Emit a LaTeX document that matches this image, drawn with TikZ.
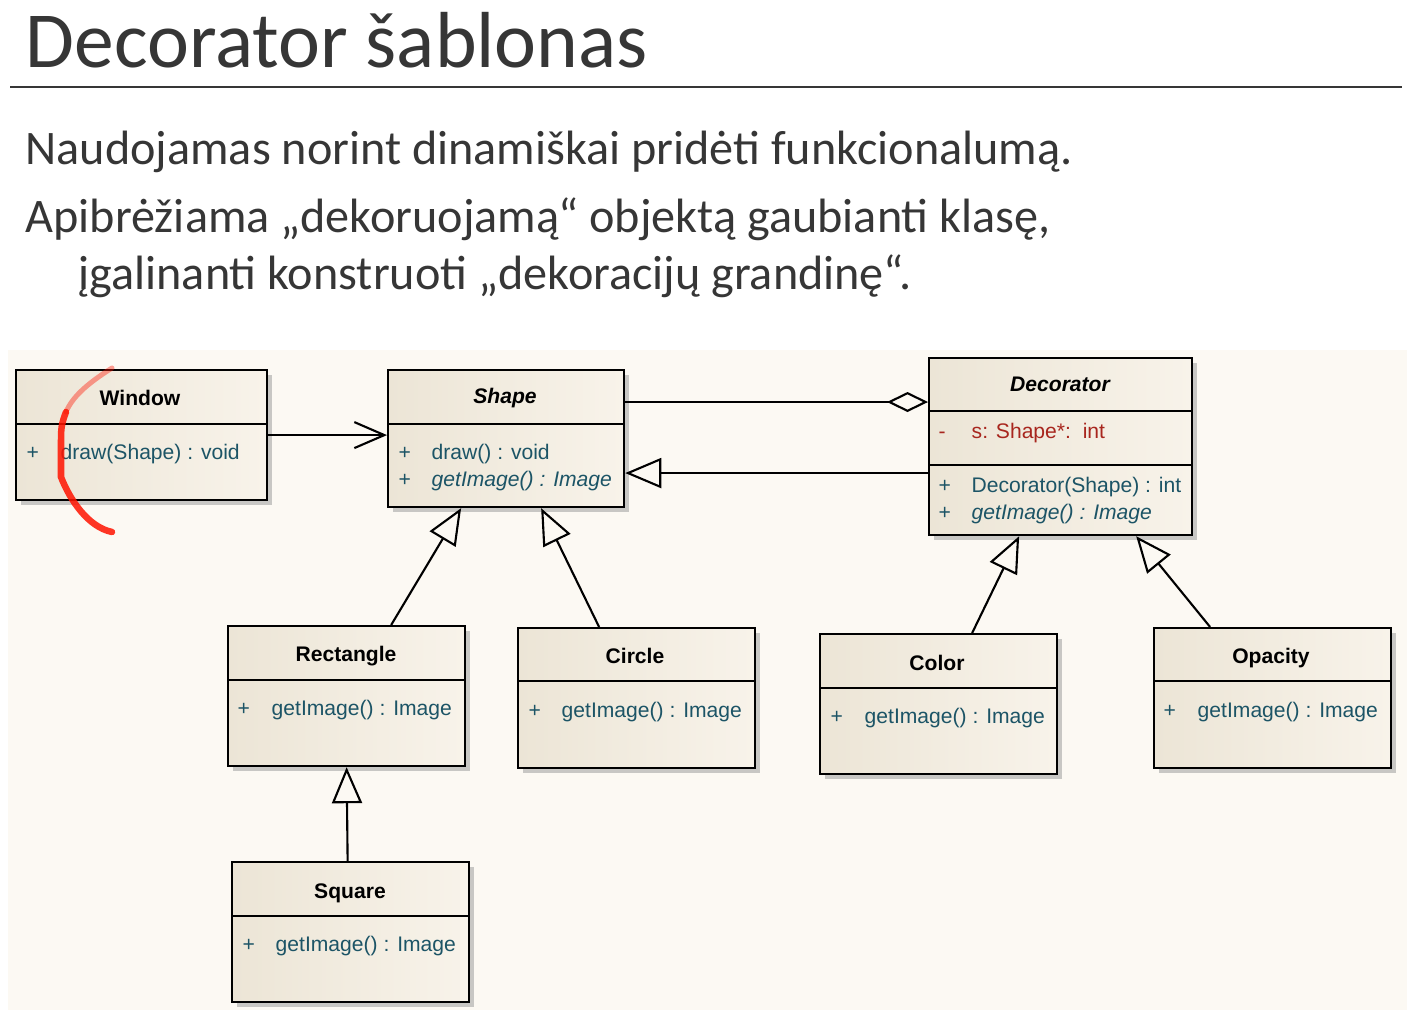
\documentclass[tikz,border=0pt]{standalone}
\usepackage{fontspec}
\setmainfont{Carlito}
\newfontfamily\umlfont{Liberation Sans}
\usetikzlibrary{arrows.meta,shadows}

\definecolor{slidetext}{HTML}{363636}
\definecolor{umlfill}{HTML}{ECE5D6}
\definecolor{umlfillb}{HTML}{F8F3EA}
\definecolor{umlteal}{HTML}{1C5466}
\definecolor{umlred}{HTML}{A8261E}
\definecolor{canvas}{HTML}{FCF9F3}

\tikzset{
  classbox/.style={draw=black, line width=0.6pt, left color=umlfill, right color=umlfillb,
    anchor=north west, inner sep=0pt,
    drop shadow={shadow xshift=0.05cm, shadow yshift=-0.05cm, fill=black!35, opacity=0.6}},
  classname/.style={font=\umlfont\fontsize{6pt}{7pt}\selectfont\bfseries, anchor=base, inner sep=0pt},
  member/.style={font=\umlfont\fontsize{6pt}{7pt}\selectfont, text=umlteal, anchor=base west, inner sep=0pt},
  attrib/.style={member, text=umlred},
  slideline/.style={font=\fontsize{13.7pt}{17pt}\selectfont, text=slidetext, anchor=base west, inner sep=0pt},
  assoc/.style={line width=0.6pt, -{Straight Barb[length=0.3cm, width=0.26cm]}},
  aggregate/.style={line width=0.6pt, -{Diamond[open, length=0.41cm, width=0.2cm]}},
  generalize/.style={line width=0.6pt, -{Triangle[open, length=0.36cm, width=0.3cm]}},
}

\begin{document}
\begin{tikzpicture}[x=0.01cm, y=-0.01cm]
  \useasboundingbox (0,0) rectangle (1407,1010);
  \fill[white] (0,0) rectangle (1407,1010);
  \fill[canvas] (8,350) rectangle (1407,1010);

  % slide text
  \node[anchor=base west, inner sep=0pt, text=slidetext, font=\fontsize{22.6pt}{26pt}\selectfont] (title) at (25,68) {Decorator šablonas};
  \draw[slidetext, line width=0.7pt] (10,87) -- (1402,87);
  \node[slideline] (lead) at (25,165) {Naudojamas norint dinamiškai pridėti funkcionalumą.};
  \node[slideline] (defn) at (25,233) {Apibrėžiama „dekoruojamą“ objektą gaubianti klasę,};
  \node[slideline] (defncont) at (78,290) {įgalinanti konstruoti „dekoracijų grandinę“.};

  % classes
  \node[classbox, minimum width=2.51cm, minimum height=1.30cm] (window) at (15,369) {};
  \draw (15,424) -- (266,424);
  \node[classname] (windowname) at (140,406) {Window};
  \node[member] (windowplus) at (26,459) {+};
  \node[member] (windowdraw) at (60,459) {draw(Shape) : void};

  \node[classbox, minimum width=2.36cm, minimum height=1.37cm] (shape) at (387,369) {};
  \draw (387,424) -- (623,424);
  \node[classname, font=\umlfont\fontsize{6pt}{7pt}\selectfont\bfseries\itshape] (shapename) at (505,404) {Shape};
  \node[member] (shapeplusa) at (398,459) {+};
  \node[member] (shapedraw) at (431,459) {draw() : void};
  \node[member] (shapeplusb) at (398,486) {+};
  \node[member, font=\umlfont\fontsize{6pt}{7pt}\selectfont\itshape] (shapeget) at (431,486) {getImage() : Image};

  \node[classbox, minimum width=2.63cm, minimum height=1.77cm] (deco) at (928,357) {};
  \draw (928,411) -- (1191,411);
  \draw (928,465) -- (1191,465);
  \node[classname, font=\umlfont\fontsize{6pt}{7pt}\selectfont\bfseries\itshape] (deconame) at (1060,392) {Decorator};
  \node[attrib] (decominus) at (938,439) {-};
  \node[attrib] (decoattr) at (971,439) {s: Shape*:\ \ int};
  \node[member] (decoplusa) at (938,492) {+};
  \node[member] (decoctor) at (971,492) {Decorator(Shape) : int};
  \node[member] (decoplusb) at (938,519) {+};
  \node[member, font=\umlfont\fontsize{6pt}{7pt}\selectfont\itshape] (decoget) at (971,519) {getImage() : Image};

  \node[classbox, minimum width=2.37cm, minimum height=1.40cm] (rect) at (227,625) {};
  \draw (227,680) -- (464,680);
  \node[classname] (rectname) at (346,661) {Rectangle};
  \node[member] (rectplus) at (237,715) {+};
  \node[member] (rectget) at (271,715) {getImage() : Image};

  \node[classbox, minimum width=2.37cm, minimum height=1.40cm] (circ) at (517,627) {};
  \draw (517,681) -- (754,681);
  \node[classname] (circname) at (635,663) {Circle};
  \node[member] (circplus) at (528,717) {+};
  \node[member] (circget) at (561,717) {getImage() : Image};

  \node[classbox, minimum width=2.37cm, minimum height=1.40cm] (colour) at (819,633) {};
  \draw (819,688) -- (1056,688);
  \node[classname] (colourname) at (937,670) {Color};
  \node[member] (colourplus) at (830,723) {+};
  \node[member] (colourget) at (864,723) {getImage() : Image};

  \node[classbox, minimum width=2.37cm, minimum height=1.40cm] (opac) at (1153,627) {};
  \draw (1153,681) -- (1390,681);
  \node[classname] (opacname) at (1271,663) {Opacity};
  \node[member] (opacplus) at (1163,717) {+};
  \node[member] (opacget) at (1197,717) {getImage() : Image};

  \node[classbox, minimum width=2.37cm, minimum height=1.40cm] (square) at (231,861) {};
  \draw (231,916) -- (468,916);
  \node[classname] (squarename) at (350,898) {Square};
  \node[member] (squareplus) at (242,951) {+};
  \node[member] (squareget) at (275,951) {getImage() : Image};

  % connectors
  \draw[assoc] (window.east) -- (window.east -| shape.west);
  \coordinate (aggstart) at ([yshift=-0.33cm]shape.north east);
  \draw[aggregate] (aggstart) -- (aggstart -| deco.west);
  \coordinate (genstart) at ([yshift=-1.16cm]deco.north west);
  \draw[generalize] (genstart) -- (genstart -| shape.east);
  \draw[generalize] ([xshift=0.445cm]rect.north) -- ([xshift=-0.45cm]shape.south);
  \draw[generalize] ([xshift=-0.375cm]circ.north) -- ([xshift=0.35cm]shape.south);
  \draw[generalize] ([xshift=0.335cm]colour.north) -- ([xshift=-0.415cm]deco.south);
  \draw[generalize] ([xshift=-0.625cm]opac.north) -- ([xshift=0.755cm]deco.south);
  \draw[generalize] ([xshift=-0.03cm]square.north) -- (rect.south);

  % pen stroke
  \draw[red!85!orange, opacity=0.4, line width=0.05cm, line cap=round]
    (112,368) .. controls (85,385) and (72,398) .. (66,412);
  \draw[red!85!orange, opacity=0.85, line width=0.065cm, line cap=round]
    (66,412) .. controls (61,425) and (61,430) .. (61,440) -- (61,477)
    .. controls (70,500) and (88,527) .. (112,532);
\end{tikzpicture}
\end{document}
